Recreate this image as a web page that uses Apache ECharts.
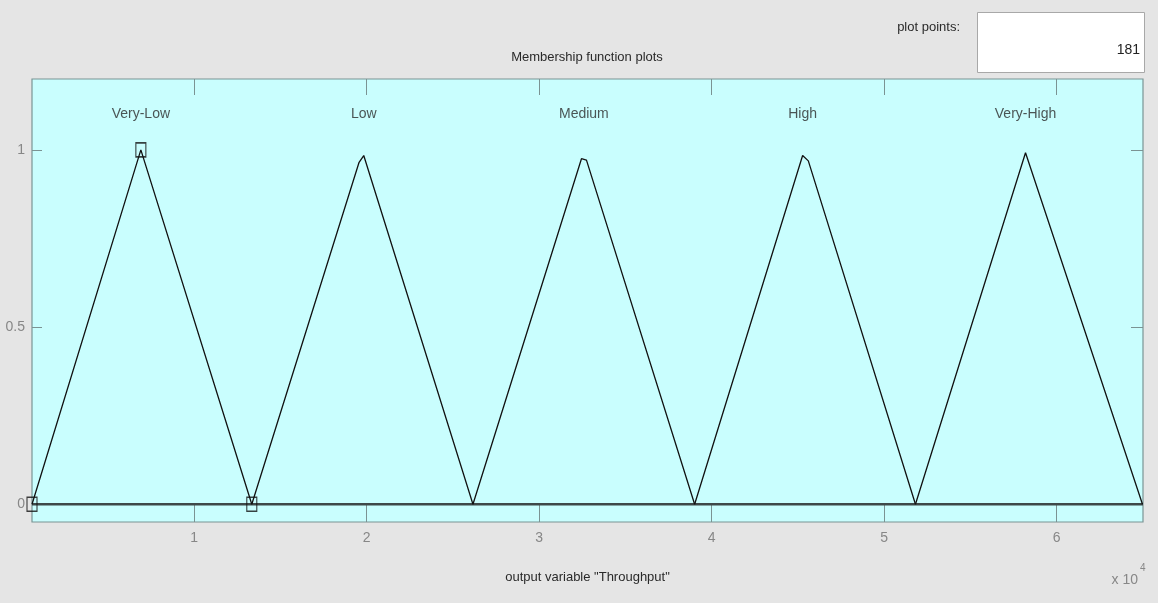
<!DOCTYPE html>
<html>
<head>
<meta charset="utf-8">
<script src="https://cdn.jsdelivr.net/npm/echarts@6/dist/echarts.min.js"></script>
<style>
html,body{margin:0;padding:0;background:#e5e5e5;}
#c{width:1158px;height:603px;}
</style>
</head>
<body>
<div id="c"></div>
<script>
// ---- data ----
const xRange = [600, 65000];
const yRange = [-0.05, 1.2];
const xTickValues = [10000, 20000, 30000, 40000, 50000, 60000];
const xTickLabels = ['1', '2', '3', '4', '5', '6'];
const yTickValues = [0, 0.5, 1];
const yTickLabels = ['0', '0.5', '1'];

const mfNames = ['Very-Low', 'Low', 'Medium', 'High', 'Very-High'];
const mfVeryLow = [[600, 0], [6910, 1], [13340, 0]];
const mfLow = [[13340, 0], [19560, 0.965], [19830, 0.984], [26160, 0]];
const mfMedium = [[26160, 0], [32450, 0.975], [32740, 0.971], [39010, 0]];
const mfHigh = [[39010, 0], [45270, 0.984], [45600, 0.969], [51810, 0]];
const mfVeryHigh = [[51810, 0], [58190, 0.992], [64970, 0]];
const labelX = [6910, 19830, 32590, 45270, 58190];
const labelY = 1.1;
const selectedPoints = [[600, 0], [6910, 1], [13340, 0]];
const baseline = [[600, 0], [65000, 0]];
const plotPoints = '181';

const chart = echarts.init(document.getElementById('c'), null, {renderer: 'canvas'});
const FONT = '"Liberation Sans", Arial, sans-serif';
const FS = 13;
const tickColor = '#7b9393';
const labelColor = '#878787';
const textColor = '#2a2a2a';

function mfSeries(data) {
  return {
    type: 'line', data: data, symbol: 'none', silent: true, z: 3,
    lineStyle: {color: '#111', width: 1.3}, animation: false
  };
}

const allMF = [mfVeryLow, mfLow, mfMedium, mfHigh, mfVeryHigh];

const option = {
  backgroundColor: '#e5e5e5',
  animation: false,
  grid: {
    left: 32, right: 15, top: 79, bottom: 81,
    show: true, backgroundColor: '#c9fefe', borderColor: '#7a9494', borderWidth: 1.2
  },
  xAxis: [
    {
      type: 'value', min: xRange[0], max: xRange[1], position: 'bottom',
      axisLine: {show: false, onZero: false}, splitLine: {show: false},
      axisTick: {show: true, inside: true, length: 17, customValues: xTickValues,
                 lineStyle: {color: tickColor, width: 1}},
      axisLabel: {show: true, customValues: xTickValues, margin: 9,
                  color: labelColor, fontSize: 14, fontFamily: FONT,
                  formatter: v => xTickLabels[xTickValues.indexOf(v)] || ''},
      name: 'output variable "Throughput"', nameLocation: 'middle', nameGap: 49,
      nameTextStyle: {color: textColor, fontSize: FS, fontFamily: FONT}
    },
    {
      type: 'value', min: xRange[0], max: xRange[1], position: 'top',
      axisLine: {show: false, onZero: false}, splitLine: {show: false},
      axisTick: {show: true, inside: true, length: 16, customValues: xTickValues,
                 lineStyle: {color: tickColor, width: 1}},
      axisLabel: {show: false}
    }
  ],
  yAxis: [
    {
      type: 'value', min: yRange[0], max: yRange[1], position: 'left',
      axisLine: {show: false, onZero: false}, splitLine: {show: false},
      axisTick: {show: true, inside: true, length: 10, customValues: yTickValues,
                 lineStyle: {color: tickColor, width: 1}},
      axisLabel: {show: true, customValues: yTickValues, margin: 7,
                  color: labelColor, fontSize: 14, fontFamily: FONT,
                  formatter: v => yTickLabels[yTickValues.indexOf(v)] || ''}
    },
    {
      type: 'value', min: yRange[0], max: yRange[1], position: 'right',
      axisLine: {show: false, onZero: false}, splitLine: {show: false},
      axisTick: {show: true, inside: true, length: 12, customValues: yTickValues,
                 lineStyle: {color: tickColor, width: 1}},
      axisLabel: {show: false}
    }
  ],
  series: [
    {
      type: 'line', data: baseline, symbol: 'none', silent: true, z: 2,
      lineStyle: {color: '#3e4848', width: 2.5}
    },
    ...allMF.map(mfSeries),
    {
      type: 'scatter', z: 5, silent: true,
      data: selectedPoints,
      symbol: 'rect', symbolSize: [10, 14],
      itemStyle: {color: 'rgba(0,0,0,0)', borderColor: '#111', borderWidth: 1.3}
    },
    {
      type: 'scatter', z: 5, silent: true, symbolSize: 0,
      data: labelX.map((x, i) => ({value: [x, labelY], name: mfNames[i]})),
      label: {show: true, position: 'inside', formatter: p => p.name,
               color: textColor, fontSize: 14, fontFamily: FONT}
    }
  ],
  graphic: [
    {type: 'text', x: 587, y: 57,
     style: {text: 'Membership function plots', fill: textColor, font: FS + 'px ' + FONT,
             align: 'center', verticalAlign: 'middle'}},
    {type: 'text', x: 960, y: 27,
     style: {text: 'plot points:', fill: textColor, font: FS + 'px ' + FONT,
             align: 'right', verticalAlign: 'middle'}},
    {type: 'rect', shape: {x: 977.5, y: 12.5, width: 167, height: 60},
     style: {fill: '#ffffff', stroke: '#a8a8a8', lineWidth: 1}},
    {type: 'text', x: 1140, y: 50,
     style: {text: plotPoints, fill: '#222', font: '14px ' + FONT,
             align: 'right', verticalAlign: 'middle'}},
    {type: 'text', x: 1138, y: 580,
     style: {text: 'x 10', fill: labelColor, font: '14px ' + FONT,
             align: 'right', verticalAlign: 'middle'}},
    {type: 'text', x: 1140, y: 568,
     style: {text: '4', fill: labelColor, font: '10px ' + FONT,
             align: 'left', verticalAlign: 'middle'}}
  ]
};
chart.setOption(option);
</script>
</body>
</html>
